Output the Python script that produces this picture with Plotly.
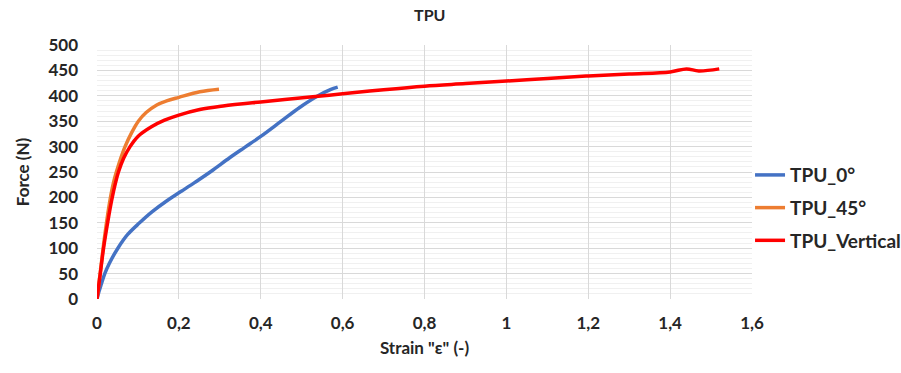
import plotly.graph_objects as go

# TPU_0° (blue)
strain_0 = [0, 0.005, 0.01, 0.019, 0.03, 0.051, 0.075, 0.104, 0.135, 0.17, 0.206, 0.24, 0.28,
            0.324, 0.36, 0.4, 0.45, 0.495, 0.54, 0.57, 0.588]
force_0 = [0, 15, 28, 50, 70, 100, 127, 150, 172, 193, 212, 230, 252,
           278, 298, 320, 350, 377, 400, 412, 417]

# TPU_45° (orange)
strain_45 = [0, 0.004, 0.008, 0.015, 0.025, 0.033, 0.04, 0.048, 0.068, 0.085, 0.101, 0.12,
             0.146, 0.17, 0.2, 0.251, 0.298]
force_45 = [0, 27, 52, 100, 160, 200, 228, 252, 299, 328, 350, 367,
            382, 390, 397, 408, 413]

# TPU_Vertical (red)
strain_v = [0, 0.004, 0.008, 0.016, 0.027, 0.036, 0.045, 0.052, 0.065, 0.08, 0.1, 0.133, 0.165,
            0.2, 0.251, 0.308, 0.4, 0.527, 0.6, 0.7, 0.8, 0.9, 1.0, 1.1, 1.2, 1.3, 1.4,
            1.44, 1.47, 1.52]
force_v = [0, 25, 50, 100, 155, 195, 228, 249, 277, 299, 320, 339, 352,
           362, 373, 380, 388, 398, 404, 412, 419, 424, 429, 434, 439, 443, 447,
           453, 449, 453]

x_ticks = [0, 0.2, 0.4, 0.6, 0.8, 1.0, 1.2, 1.4, 1.6]
x_tick_labels = ["0", "0,2", "0,4", "0,6", "0,8", "1", "1,2", "1,4", "1,6"]
y_ticks = [0, 50, 100, 150, 200, 250, 300, 350, 400, 450, 500]

FONT = "Lato"
TXT = "#262626"

fig = go.Figure()
fig.add_trace(go.Scatter(x=strain_0, y=force_0, mode="lines", name="<b>TPU_0°</b>",
                         legendgroup="a",
                         line=dict(color="#4472C4", width=3.5, shape="spline")))
fig.add_trace(go.Scatter(x=strain_45, y=force_45, mode="lines", name="<b>TPU_45°</b>",
                         legendgroup="b",
                         line=dict(color="#ED7D31", width=3.5, shape="spline")))
fig.add_trace(go.Scatter(x=strain_v, y=force_v, mode="lines", name="<b>TPU_Vertical</b>",
                         legendgroup="c",
                         line=dict(color="#FF0000", width=3.5, shape="spline")))

fig.update_layout(
    width=901, height=373,
    margin=dict(l=97, r=149, t=45, b=74, autoexpand=False),
    paper_bgcolor="white", plot_bgcolor="white",
    font=dict(family=FONT, color=TXT, size=16),
    title=dict(text="<b>TPU</b>", x=0.477, xanchor="center", y=0.96, yanchor="middle",
               font=dict(family=FONT, size=16, color=TXT)),
    legend=dict(x=0.997, xanchor="left", y=0.358, yanchor="middle",
                font=dict(family=FONT, size=19, color=TXT),
                bgcolor="rgba(0,0,0,0)", tracegroupgap=5),
    showlegend=True,
)
fig.update_xaxes(
    range=[0, 1.6], tickvals=x_ticks, ticktext=["<b>%s</b>" % t for t in x_tick_labels],
    showgrid=True, gridcolor="#d9d9d9", gridwidth=1, zeroline=False, automargin=False,
    showline=False, ticks="", ticklabelstandoff=12,
    tickfont=dict(family=FONT, size=17, color=TXT),
    title=dict(text="<b>Strain \"ε\" (-)</b>", font=dict(family=FONT, size=17, color=TXT), standoff=10),
)
fig.update_yaxes(
    range=[0, 500], tickvals=y_ticks,
    ticktext=["<b>%d</b>" % v for v in y_ticks],
    showgrid=True, gridcolor="#d9d9d9", gridwidth=1, zeroline=False, automargin=False,
    showline=False, ticks="", ticklabelstandoff=18,
    minor=dict(tickvals=[v for v in range(0, 501, 10) if v % 50], showgrid=True,
               gridcolor="#f0f0f0", gridwidth=1),
    tickfont=dict(family=FONT, size=17, color=TXT),
    title=dict(text="<b>Force (N)</b>", font=dict(family=FONT, size=17, color=TXT), standoff=14),
)

fig.write_html("out.html", config={"displayModeBar": False},
               post_script="document.body.style.margin='0px';")
